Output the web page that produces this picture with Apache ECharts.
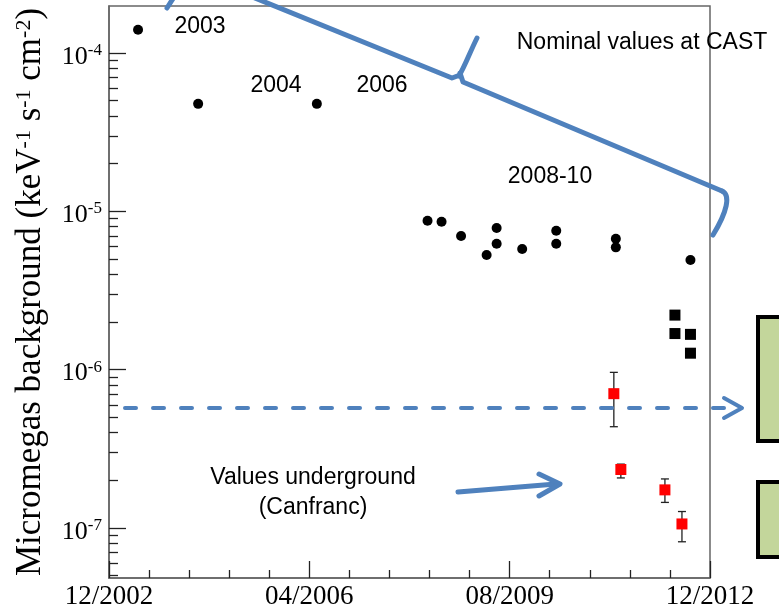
<!DOCTYPE html>
<html>
<head>
<meta charset="utf-8">
<script src="https://cdn.jsdelivr.net/npm/echarts@6/dist/echarts.min.js"></script>
<style>
  html, body { margin: 0; padding: 0; background: #fff; }
  #chart { width: 779px; height: 610px; }
</style>
</head>
<body>
<div id="chart"></div>
<script>
// x = months after 12/2002
const xTickLabels = ['12/2002', '04/2006', '08/2009', '12/2012'];
const yDecades = [-7, -6, -5, -4];

// black dots (surface measurements)
const dotMonths = [5.8, 17.8, 41.5, 63.6, 66.4, 70.3, 75.4, 77.4, 77.4, 82.5, 89.3, 89.3, 101.2, 101.2, 116.1];
const dotValues = [1.40e-4, 4.77e-5, 4.77e-5, 8.72e-6, 8.60e-6, 6.98e-6, 5.30e-6, 7.84e-6, 6.24e-6, 5.78e-6, 7.54e-6, 6.24e-6, 6.71e-6, 5.92e-6, 4.92e-6];

// black squares
const sqMonths = [113.0, 113.0, 116.1, 116.1];
const sqValues = [2.21e-6, 1.69e-6, 1.67e-6, 1.27e-6];

// red squares (underground) with errors
const redMonths = [100.8, 102.2, 111.0, 114.4];
const redValues = [7.05e-7, 2.34e-7, 1.74e-7, 1.06e-7];
const redLow = [4.36e-7, 2.07e-7, 1.45e-7, 8.18e-8];
const redHigh = [9.61e-7, 2.53e-7, 2.04e-7, 1.27e-7];

const yMin = 4.83e-8, yMax = 1.98e-4;
const lgMin = Math.log10(yMin), lgMax = Math.log10(yMax);

// log minor ticks 2..9 x 10^n
const minorTicks = [];
for (let n = -8; n <= -4; n++) {
  for (let k = 2; k <= 9; k++) {
    const v = n + Math.log10(k);
    if (v > lgMin + 0.01 && v < lgMax - 0.01) minorTicks.push(v);
  }
}

const zip = (a, b) => a.map((x, i) => [x, b[i]]);
const blue = '#4F81BD';
const tickStyle = { color: '#222', width: 1.3 };
const annoFont = { fontFamily: 'Liberation Sans', fontSize: 23, fill: '#000', align: 'center', verticalAlign: 'middle' };
const blueLine = { stroke: blue, lineWidth: 5, fill: null, lineCap: 'round', lineJoin: 'round' };

function label(x, y, t) {
  return { type: 'text', x: x, y: y, z: 100, style: Object.assign({ text: t }, annoFont) };
}

let chart = echarts.init(document.getElementById('chart'));
chart.setOption({
  animation: false,
  backgroundColor: '#fff',
  grid: {
    left: 109, right: 69, top: 6, bottom: 32,
    show: true, borderColor: '#666', borderWidth: 1.5,
    outerBoundsMode: 'none'
  },
  xAxis: {
    type: 'value', min: 0, max: 120, interval: 40,
    axisLine: { show: true, onZero: false, lineStyle: { color: '#666', width: 1.5 } },
    axisTick: { inside: true, length: 17, lineStyle: tickStyle },
    minorTick: { show: true, splitNumber: 5, length: 8, lineStyle: tickStyle },
    splitLine: { show: false },
    axisLabel: {
      margin: 5, color: '#000', fontFamily: 'Liberation Serif', fontSize: 27,
      formatter: v => xTickLabels[Math.round(v / 40)]
    }
  },
  yAxis: [
    {
      // data axis
      type: 'log', logBase: 10, min: yMin, max: yMax, position: 'left',
      axisLine: { show: false }, axisTick: { show: false },
      axisLabel: { show: false }, splitLine: { show: false }
    },
    {
      // decades, labels and title
      type: 'value', min: lgMin, max: lgMax, position: 'left',
      axisLine: { show: true, onZero: false, lineStyle: { color: '#666', width: 1.5 } },
      axisTick: { inside: true, length: 17, lineStyle: tickStyle, customValues: yDecades },
      splitLine: { show: false },
      axisLabel: {
        customValues: yDecades, margin: 7, padding: [8, 0, 0, 0],
        formatter: v => '{b|10}{s|' + Math.round(v) + '}',
        rich: {
          b: { fontFamily: 'Liberation Serif', fontSize: 26, color: '#000', lineHeight: 30 },
          s: { fontFamily: 'Liberation Serif', fontSize: 17, color: '#000', lineHeight: 17, verticalAlign: 'top' }
        }
      },
      name: 'Micromegas background (keV{s|-1} s{s|-1} cm{s|-2})',
      nameLocation: 'middle', nameGap: 61, nameRotate: 90,
      nameTextStyle: {
        fontFamily: 'Liberation Serif', fontSize: 35, color: '#000',
        rich: { s: { fontFamily: 'Liberation Serif', fontSize: 22, color: '#000', verticalAlign: 'top' } }
      }
    },
    {
      // log minor ticks
      type: 'value', min: lgMin, max: lgMax, position: 'left',
      axisLine: { show: false },
      axisTick: { inside: true, length: 9, lineStyle: tickStyle, customValues: minorTicks },
      axisLabel: { show: false }, splitLine: { show: false }
    }
  ],
  series: [
    {
      type: 'scatter', yAxisIndex: 0, symbol: 'circle', symbolSize: 10,
      itemStyle: { color: '#000', opacity: 1 }, data: zip(dotMonths, dotValues)
    },
    {
      type: 'scatter', yAxisIndex: 0, symbol: 'rect', symbolSize: 11,
      itemStyle: { color: '#000', opacity: 1 }, data: zip(sqMonths, sqValues)
    },
    {
      type: 'custom', yAxisIndex: 0, z: 3,
      data: redMonths.map((m, i) => [m, redLow[i], redHigh[i]]),
      encode: { x: 0, y: [1, 2] },
      renderItem: function (params, api) {
        const x = api.value(0);
        const lo = api.coord([x, api.value(1)]);
        const hi = api.coord([x, api.value(2)]);
        const st = { stroke: '#222', lineWidth: 1.3 };
        const w = 4;
        return {
          type: 'group', children: [
            { type: 'line', shape: { x1: lo[0], y1: lo[1], x2: hi[0], y2: hi[1] }, style: st },
            { type: 'line', shape: { x1: lo[0] - w, y1: lo[1], x2: lo[0] + w, y2: lo[1] }, style: st },
            { type: 'line', shape: { x1: hi[0] - w, y1: hi[1], x2: hi[0] + w, y2: hi[1] }, style: st }
          ]
        };
      }
    },
    {
      type: 'scatter', yAxisIndex: 0, symbol: 'rect', symbolSize: 11, z: 4,
      itemStyle: { color: '#ff0000', opacity: 1 }, data: zip(redMonths, redValues)
    }
  ],
  graphic: [
    // brace over the 2003-2010 CAST values
    { type: 'polyline', z: 100, shape: { points: [[250, -4], [452, 78], [460, 75]] }, style: blueLine },
    { type: 'bezierCurve', z: 100, shape: { x1: 459, y1: 76, cpx1: 465, cpy1: 66, cpx2: 470, cpy2: 52, x2: 477, y2: 38 }, style: blueLine },
    { type: 'polyline', z: 100, shape: { points: [[460, 73], [463, 82], [722, 191]] }, style: blueLine },
    { type: 'bezierCurve', z: 100, shape: { x1: 722, y1: 191, cpx1: 731, cpy1: 195, cpx2: 727, cpy2: 212, x2: 713, y2: 235 }, style: blueLine },
    { type: 'line', z: 100, shape: { x1: 167, y1: 8, x2: 174, y2: -3 }, style: blueLine },
    // dashed level arrow
    { type: 'line', z: 100, shape: { x1: 125, y1: 408, x2: 727, y2: 408 }, style: { stroke: blue, lineWidth: 4, lineDash: [11, 17], lineCap: 'round' } },
    { type: 'polyline', z: 100, shape: { points: [[724, 398], [742, 408], [724, 418]] }, style: Object.assign({}, blueLine, { lineWidth: 4 }) },
    // underground arrow
    { type: 'line', z: 100, shape: { x1: 458, y1: 492, x2: 556, y2: 484 }, style: blueLine },
    { type: 'polyline', z: 100, shape: { points: [[539, 474], [560, 484], [539, 496]] }, style: blueLine },
    // green boxes at right edge
    { type: 'rect', z: 100, shape: { x: 758, y: 317, width: 40, height: 124 }, style: { fill: '#C3D69B', stroke: '#000', lineWidth: 4 } },
    { type: 'rect', z: 100, shape: { x: 758, y: 482, width: 40, height: 75 }, style: { fill: '#C3D69B', stroke: '#000', lineWidth: 4 } },
    label(200, 27, '2003'),
    label(276, 86, '2004'),
    label(382, 86, '2006'),
    label(550, 177, '2008-10'),
    label(642, 43, 'Nominal values at CAST'),
    label(313, 478, 'Values underground'),
    label(313, 508, '(Canfranc)')
  ]
});
</script>
</body>
</html>
